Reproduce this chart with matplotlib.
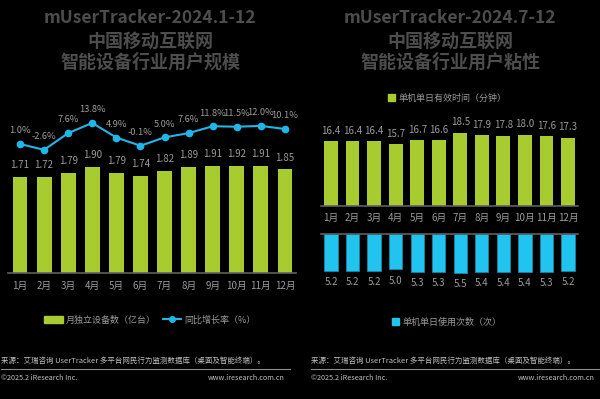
import matplotlib
matplotlib.use("Agg")
import matplotlib.pyplot as plt
from matplotlib.patches import Patch
from matplotlib.lines import Line2D

plt.rcParams['font.family'] = ['Noto Sans CJK SC', 'DejaVu Sans']

months = ['1月', '2月', '3月', '4月', '5月', '6月', '7月', '8月', '9月', '10月', '11月', '12月']
devices = [1.71, 1.72, 1.79, 1.90, 1.79, 1.74, 1.82, 1.89, 1.91, 1.92, 1.91, 1.85]
growth = [1.0, -2.6, 7.6, 13.8, 4.9, -0.1, 5.0, 7.6, 11.8, 11.5, 12.0, 10.1]
minutes = [16.4, 16.4, 16.4, 15.7, 16.7, 16.6, 18.5, 17.9, 17.8, 18.0, 17.6, 17.3]
times = [5.2, 5.2, 5.2, 5.0, 5.3, 5.3, 5.5, 5.4, 5.4, 5.4, 5.3, 5.2]

BG = 'black'
GREEN = '#a8cc2f'
CYAN_LINE = '#1fb6e8'
CYAN_BAR = '#20c4ee'
TITLE = '#4d4d4d'
LABEL = '#9a9a9a'
AXIS = '#606060'

W, H = 600, 399
fig = plt.figure(figsize=(6, 3.99), dpi=100, facecolor=BG)


def px_axes(x0, y0, x1, y1):
    ax = fig.add_axes([x0 / W, 1 - y1 / H, (x1 - x0) / W, (y1 - y0) / H])
    ax.set_facecolor('none')
    for s in ax.spines.values():
        s.set_visible(False)
    ax.set_yticks([])
    return ax


x = list(range(len(months)))

# titles
for cx, sub in [(150, '智能设备行业用户规模'), (450, '智能设备行业用户粘性')]:
    head = 'mUserTracker-2024.1-12' if cx == 150 else 'mUserTracker-2024.7-12'
    fig.text(cx / W, 1 - 18 / H, head, ha='center', va='center', fontsize=12.5,
             fontweight='bold', color=TITLE)
    fig.text(cx / W, 1 - 41 / H, '中国移动互联网', ha='center', va='center', fontsize=13,
             fontweight='bold', color=TITLE)
    fig.text(cx / W, 1 - 62 / H, sub, ha='center', va='center', fontsize=13,
             fontweight='bold', color=TITLE)

# left: devices + growth
ax1 = px_axes(8, 100, 296, 273)
ax1.bar(x, devices, width=0.62, color=GREEN)
ax1.set_xlim(-0.498, 11.457)
ax1.set_ylim(0, 3.09)
ax1.spines['bottom'].set_visible(True)
ax1.spines['bottom'].set_color(AXIS)
ax1.spines['bottom'].set_linewidth(1.2)
ax1.set_xticks(x)
ax1.set_xticklabels(months, fontsize=7, color=LABEL)
ax1.tick_params(axis='x', length=0, pad=5.5)
for xi, v in zip(x, devices):
    ax1.annotate(f'{v:.2f}', (xi, v), xytext=(0, 8.5), textcoords='offset points',
                 ha='center', va='center', fontsize=7, color=LABEL)

ax2 = ax1.twinx()
for s in ax2.spines.values():
    s.set_visible(False)
ax2.set_yticks([])
ax2.plot(x, growth, color=CYAN_LINE, lw=1.5, marker='o', markersize=4.5)
ax2.set_ylim(-77.7, 27.8)
for xi, v in zip(x, growth):
    ax2.annotate(f'{v:.1f}%', (xi, v), xytext=(0, 9.5), textcoords='offset points',
                 ha='center', va='center', fontsize=6.7, color=LABEL)

fig.legend(handles=[Patch(color=GREEN, label='月独立设备数（亿台）'),
                    Line2D([0], [0], color=CYAN_LINE, lw=1.5, marker='o', markersize=4,
                           label='同比增长率（%）')],
           loc='center', bbox_to_anchor=(150 / W, 1 - 320 / H), ncol=2, frameon=False,
           fontsize=6.5, labelcolor=LABEL, handlelength=2.0, handleheight=0.7,
           handletextpad=0.3, columnspacing=0.9)

# right top: minutes
ax3 = px_axes(321, 110, 578, 206)
ax3.bar(x, minutes, width=0.64, color=GREEN)
ax3.set_xlim(-0.464, 11.464)
ax3.set_ylim(0, 24.3)
ax3.spines['bottom'].set_visible(True)
ax3.spines['bottom'].set_color(AXIS)
ax3.spines['bottom'].set_linewidth(1.2)
ax3.set_xticks(x)
ax3.set_xticklabels(months, fontsize=7, color=LABEL)
ax3.tick_params(axis='x', length=0, pad=5)
for xi, v in zip(x, minutes):
    ax3.annotate(f'{v:.1f}', (xi, v), xytext=(0, 7.5), textcoords='offset points',
                 ha='center', va='center', fontsize=7, color=LABEL)

fig.legend(handles=[Patch(color=GREEN, label='单机单日有效时间（分钟）')],
           loc='center', bbox_to_anchor=(447 / W, 1 - 98 / H), frameon=False,
           fontsize=6.5, labelcolor=LABEL, handlelength=0.8, handleheight=0.8,
           handletextpad=0.4)

# right bottom: times
ax4 = px_axes(321, 234, 578, 300)
ax4.bar(x, times, width=0.62, color=CYAN_BAR, edgecolor='#1a8fb0', linewidth=0.5)
ax4.set_xlim(-0.464, 11.464)
ax4.set_ylim(9.3, 0)
ax4.spines['top'].set_visible(True)
ax4.spines['top'].set_color(AXIS)
ax4.spines['top'].set_linewidth(1.2)
ax4.set_xticks([])
for xi, v in zip(x, times):
    ax4.annotate(f'{v:.1f}', (xi, v), xytext=(0, -8), textcoords='offset points',
                 ha='center', va='center', fontsize=7, color=LABEL)

fig.legend(handles=[Patch(color=CYAN_BAR, label='单机单日使用次数（次）')],
           loc='center', bbox_to_anchor=(447 / W, 1 - 322 / H), frameon=False,
           fontsize=6.5, labelcolor=LABEL, handlelength=0.8, handleheight=0.8,
           handletextpad=0.4)

# footers
src = '来源：艾瑞咨询 UserTracker 多平台网民行为监测数据库（桌面及智能终端）。'
for x0, x1 in [(1, 290), (311, 600)]:
    fig.text(x0 / W, 1 - 361 / H, src, ha='left', va='center', fontsize=5.4, color='#bfbfbf')
    fig.add_artist(Line2D([x0 / W, x1 / W], [1 - 369 / H, 1 - 369 / H], color='#8c8c8c', lw=0.8))
    fig.text(x0 / W, 1 - 378 / H, '©2025.2 iResearch Inc.', ha='left', va='center',
             fontsize=5.2, color='#bfbfbf')
    fig.text((x1 - 5) / W, 1 - 378 / H, 'www.iresearch.com.cn', ha='right', va='center',
             fontsize=5.2, color='#bfbfbf')

fig.savefig('out.png', dpi=100, facecolor=BG)
